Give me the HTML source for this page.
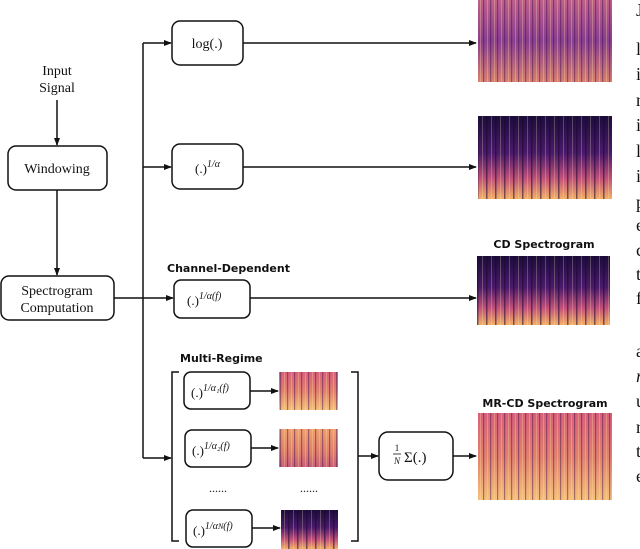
<!DOCTYPE html>
<html><head><meta charset="utf-8"><style>
html,body{margin:0;padding:0;background:#fff;}
svg{display:block;}
.s{font-family:"Liberation Serif","DejaVu Serif",serif;fill:#111;}
.b{font-family:"DejaVu Sans","Liberation Sans",sans-serif;font-weight:bold;fill:#111;}
</style></head><body>
<svg width="640" height="549" viewBox="0 0 640 549" xmlns="http://www.w3.org/2000/svg">
<defs>
<marker id="a" markerWidth="8" markerHeight="8" refX="7" refY="4" orient="auto" markerUnits="userSpaceOnUse">
<path d="M0,1 L8,4 L0,7 z" fill="#111"/></marker>
<linearGradient id="gLog" x1="0" y1="0" x2="0" y2="1">
<stop offset="0" stop-color="#c0608a"/><stop offset="0.5" stop-color="#8a3e8e"/><stop offset="1" stop-color="#d98070"/></linearGradient>
<linearGradient id="gDark" x1="0" y1="0" x2="0" y2="1">
<stop offset="0" stop-color="#1c0c3c"/><stop offset="0.45" stop-color="#4a1a6a"/><stop offset="0.75" stop-color="#c0507a"/><stop offset="1" stop-color="#f4b068"/></linearGradient>
<linearGradient id="gOr" x1="0" y1="0" x2="0" y2="1">
<stop offset="0" stop-color="#d8607a"/><stop offset="0.5" stop-color="#e2806e"/><stop offset="1" stop-color="#f6c07a"/></linearGradient>
<linearGradient id="gOr2" x1="0" y1="0" x2="0" y2="1">
<stop offset="0" stop-color="#f0a070"/><stop offset="0.6" stop-color="#e0806c"/><stop offset="1" stop-color="#c86078"/></linearGradient>
<pattern id="st" width="9" height="10" patternUnits="userSpaceOnUse">
<rect x="0" y="0" width="1.5" height="10" fill="#1a0830" opacity="0.55"/>
<rect x="5" y="0" width="1" height="10" fill="#fff2b0" opacity="0.25"/></pattern>
<pattern id="st2" width="7" height="10" patternUnits="userSpaceOnUse">
<rect x="0" y="0" width="1.2" height="10" fill="#3a1050" opacity="0.45"/>
<rect x="4" y="0" width="1" height="10" fill="#ffe0a0" opacity="0.3"/></pattern>
</defs>

<g fill="none" stroke="#111" stroke-width="1.5">
<!-- input -> windowing -->
<line x1="57" y1="100" x2="57" y2="145" marker-end="url(#a)"/>
<rect x="8" y="146" width="99" height="44" rx="8"/>
<line x1="57" y1="190" x2="57" y2="275" marker-end="url(#a)"/>
<rect x="1" y="276" width="113" height="44" rx="8"/>
<!-- trunk -->
<line x1="143" y1="43" x2="143" y2="458"/>
<line x1="143" y1="43" x2="171" y2="43" marker-end="url(#a)"/>
<line x1="143" y1="167" x2="171" y2="167" marker-end="url(#a)"/>
<line x1="114" y1="298" x2="173" y2="298" marker-end="url(#a)"/>
<line x1="143" y1="458" x2="171" y2="458" marker-end="url(#a)"/>
<rect x="172" y="21" width="71" height="44" rx="8"/>
<rect x="172" y="144" width="71" height="45" rx="8"/>
<rect x="174" y="280" width="76" height="38" rx="7"/>
<line x1="243" y1="43" x2="476" y2="43" marker-end="url(#a)"/>
<line x1="243" y1="167" x2="476" y2="167" marker-end="url(#a)"/>
<line x1="250" y1="298" x2="476" y2="298" marker-end="url(#a)"/>
<!-- brackets -->
<path d="M179,372 L172,372 L172,541 L179,541"/>
<path d="M351,372 L358,372 L358,541 L351,541"/>
<rect x="184" y="372" width="66" height="37" rx="7"/>
<rect x="185" y="430" width="66" height="37" rx="7"/>
<rect x="186" y="510" width="66" height="37" rx="7"/>
<line x1="250" y1="391" x2="278" y2="391" marker-end="url(#a)"/>
<line x1="251" y1="448" x2="278" y2="448" marker-end="url(#a)"/>
<line x1="252" y1="528" x2="280" y2="528" marker-end="url(#a)"/>
<line x1="358" y1="456" x2="378" y2="456" marker-end="url(#a)"/>
<rect x="379" y="432" width="74" height="48" rx="9"/>
<line x1="453" y1="456" x2="476" y2="456" marker-end="url(#a)"/>
</g>

<!-- spectrograms -->
<rect x="478" y="0" width="134" height="82" fill="url(#gLog)"/><rect x="478" y="0" width="134" height="82" fill="url(#st2)"/>
<rect x="478" y="116" width="134" height="83" fill="url(#gDark)"/><rect x="478" y="116" width="134" height="83" fill="url(#st)"/>
<rect x="477" y="256" width="133" height="69" fill="url(#gDark)"/><rect x="477" y="256" width="133" height="69" fill="url(#st)"/>
<rect x="478" y="413" width="134" height="87" fill="url(#gOr)"/><rect x="478" y="413" width="134" height="87" fill="url(#st2)"/>
<rect x="279" y="372" width="59" height="38" fill="url(#gOr)"/><rect x="279" y="372" width="59" height="38" fill="url(#st2)"/>
<rect x="279" y="429" width="59" height="38" fill="url(#gOr2)"/><rect x="279" y="429" width="59" height="38" fill="url(#st2)"/>
<rect x="281" y="510" width="57" height="39" fill="url(#gDark)"/><rect x="281" y="510" width="57" height="39" fill="url(#st)"/>

<!-- text -->
<text class="s" x="57" y="75" font-size="14" text-anchor="middle">Input</text>
<text class="s" x="57" y="92" font-size="14" text-anchor="middle">Signal</text>
<text class="s" x="57" y="173" font-size="14" text-anchor="middle">Windowing</text>
<text class="s" x="57" y="295" font-size="14" text-anchor="middle">Spectrogram</text>
<text class="s" x="57" y="312" font-size="14" text-anchor="middle">Computation</text>
<text class="s" x="207" y="48" font-size="14" text-anchor="middle">log(.)</text>
<text class="s" x="195" y="173" font-size="13">(.)<tspan dy="-6" font-size="10" font-style="italic">1/α</tspan></text>
<text class="s" x="187" y="305" font-size="13">(.)<tspan dy="-6" font-size="10" font-style="italic">1/α(f)</tspan></text>
<text class="b" x="167" y="272" font-size="11">Channel-Dependent</text>
<text class="b" x="180" y="362" font-size="11">Multi-Regime</text>
<text class="s" x="191" y="397" font-size="13">(.)<tspan dy="-6" font-size="10" font-style="italic">1/α₁(f)</tspan></text>
<text class="s" x="192" y="455" font-size="13">(.)<tspan dy="-6" font-size="10" font-style="italic">1/α₂(f)</tspan></text>
<text class="s" x="193" y="535" font-size="13">(.)<tspan dy="-6" font-size="10" font-style="italic">1/α<tspan font-size="8">N</tspan>(f)</tspan></text>
<text class="s" x="218" y="492" font-size="12" text-anchor="middle">......</text>
<text class="s" x="309" y="492" font-size="12" text-anchor="middle">......</text>
<text class="s" x="397" y="451" font-size="9" text-anchor="middle">1</text>
<line x1="393" y1="454" x2="401" y2="454" stroke="#111" stroke-width="0.8"/>
<text class="s" x="397" y="464" font-size="9" text-anchor="middle" font-style="italic">N</text>
<text class="s" x="404" y="462" font-size="15">Σ(.)</text>
<text class="b" x="544" y="248" font-size="11" text-anchor="middle">CD Spectrogram</text>
<text class="b" x="545" y="407" font-size="11" text-anchor="middle">MR-CD Spectrogram</text>

<g class="s" font-size="18">
<text x="636" y="16">J</text><text x="636" y="55">l</text><text x="636" y="80">i</text><text x="636" y="106">r</text>
<text x="636" y="131">i</text><text x="636" y="157">l</text><text x="636" y="182">i</text><text x="636" y="208">p</text>
<text x="636" y="231">e</text><text x="636" y="256">c</text><text x="636" y="280">t</text><text x="636" y="304">f</text>
<text x="636" y="357">a</text><text x="636" y="382" font-style="italic">r</text><text x="636" y="407">u</text>
<text x="636" y="433">r</text><text x="636" y="457">t</text><text x="636" y="482">e</text>
</g>
</svg>
</body></html>
